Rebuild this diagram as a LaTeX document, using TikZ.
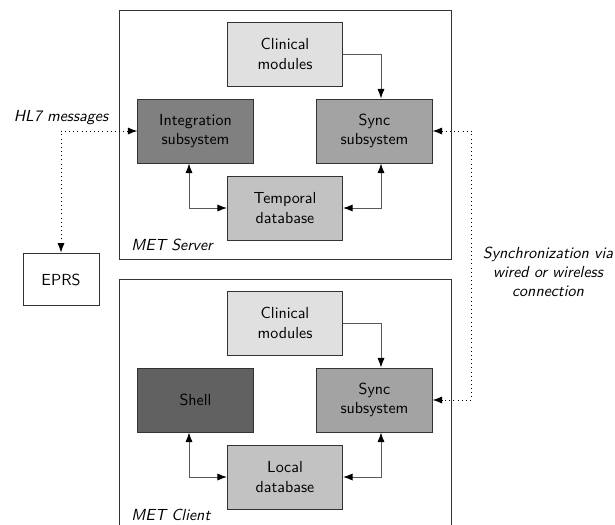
\documentclass[tikz,border=0pt]{standalone}
\usepackage{fontspec}
\usetikzlibrary{arrows.meta,calc}

\tikzstyle{block} = [draw=black!80, rectangle, align=center,
    minimum height=40pt, minimum width=72pt]
\tikzstyle{clinical} = [block, fill=black!12]
\tikzstyle{integration} = [block, fill=black!50]
\tikzstyle{shell} = [block, fill=black!62]
\tikzstyle{syncbox} = [block, fill=black!36]
\tikzstyle{database} = [block, fill=black!24]
\tikzstyle{external} = [draw=black!80, rectangle, minimum height=33pt, minimum width=47.5pt]
\tikzstyle{container} = [draw=black!80, rectangle, minimum height=155.6pt, minimum width=208pt]
\tikzstyle{caption} = [font=\sffamily\slshape, inner sep=0pt, anchor=base west]
\tikzstyle{note} = [font=\sffamily\slshape, align=center]
\tikzstyle{link} = [draw=black!65, {Latex[black,length=6pt,width=4.5pt]}-{Latex[black,length=6pt,width=4.5pt]}]
\tikzstyle{msg} = [draw=black, dotted, {Latex[black,length=6pt,width=4.5pt]}-{Latex[black,length=6pt,width=4.5pt]}]

\begin{document}
\begin{tikzpicture}[x=0.625pt, y=-0.625pt, font=\sffamily, line width=0.6pt]
    \useasboundingbox (0,0) rectangle (615,525);
    % server side
    \node [container] (server) at (285.5,134.5) {};
    \node [caption] (serverlabel) at (131,250) {MET Server};
    \node [clinical] (clinS) at (285,54) {Clinical\\modules};
    \node [integration] (integ) at (195.5,131) {Integration\\subsystem};
    \node [syncbox] (syncS) at (374.5,131) {Sync\\subsystem};
    \node [database] (temporal) at (285,208) {Temporal\\database};
    \draw [link, {}-{Latex[black,length=6pt,width=4.5pt]}] (clinS.east) -| ($(syncS.north)+(6.5,0)$);
    \draw [link] ($(integ.south)+(-6.5,0)$) |- (temporal.west);
    \draw [link] (temporal.east) -| ($(syncS.south)+(6.5,0)$);
    % client side
    \node [container] (client) at ($(server)+(0,269)$) {};
    \node [caption] (clientlabel) at ($(serverlabel.base west)+(0,270)$) {MET Client};
    \node [clinical] (clinC) at ($(clinS)+(0,269)$) {Clinical\\modules};
    \node [shell] (shell) at ($(integ)+(0,269)$) {Shell};
    \node [syncbox] (syncC) at ($(syncS)+(0,269)$) {Sync\\subsystem};
    \node [database] (local) at ($(temporal)+(0,269)$) {Local\\database};
    \draw [link, {}-{Latex[black,length=6pt,width=4.5pt]}] (clinC.east) -| ($(syncC.north)+(6.5,0)$);
    \draw [link] ($(shell.south)+(-6.5,0)$) |- (local.west);
    \draw [link] (local.east) -| ($(syncC.south)+(6.5,0)$);
    % outside
    \node [external] (eprs) at (61,279.5) {EPRS};
    \draw [msg] (eprs.north) |- (integ.west);
    \node [note, above] (hl7) at (eprs.north |- integ.west) {HL7 messages};
    \draw [msg] (syncS.east) -- ++(39,0) coordinate (bend) |- (syncC.east);
    \node [note] (synclabel) at (548,272)
        {Synchronization via\\wired or wireless\\connection};
\end{tikzpicture}
\end{document}
